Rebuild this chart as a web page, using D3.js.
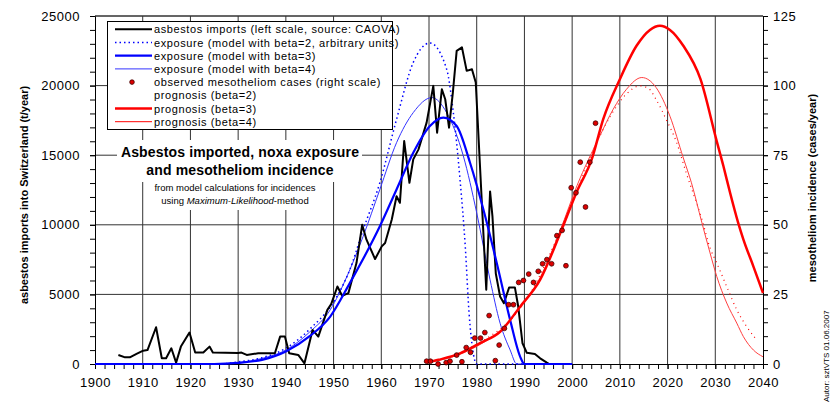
<!DOCTYPE html>
<html lang="en">
<head>
<meta charset="utf-8">
<title>Asbestos imported, noxa exposure and mesotheliom incidence</title>
<script src="https://cdn.jsdelivr.net/npm/d3@7"></script>
<style>
  body { margin: 0; background: #fff; }
  svg { display: block; font-family: "Liberation Sans", Arial, sans-serif; }
  .tick text { font-size: 13px; letter-spacing: 0.5px; fill: #000; }
  .grid line { stroke: #333; stroke-width: 1; }
</style>
</head>
<body>
<script>
// asbestos imports, t/year (left scale)
var importYears = [1904.9, 1906.3, 1907.3, 1908.7, 1910.1, 1911.0, 1912.8, 1914.0, 1914.9, 1916.0,
  1917.0, 1918.0, 1919.8, 1921.0, 1922.7, 1924.0, 1924.7, 1930.0, 1930.7, 1931.8,
  1934.2, 1937.7, 1938.8, 1939.8, 1940.7, 1942.6, 1943.9, 1945.6, 1946.8, 1948.7,
  1949.5, 1950.8, 1951.8, 1953.1, 1954.8, 1956.0, 1956.9, 1958.7, 1960.1, 1960.8,
  1962.2, 1963.2, 1963.9, 1964.8, 1965.9, 1966.7, 1967.8, 1969.5, 1970.9, 1971.7,
  1972.7, 1973.4, 1974.2, 1975.0, 1975.8, 1976.9, 1977.9, 1979.0, 1979.8, 1982.0,
  1982.8, 1983.3, 1984.0, 1984.9, 1985.7, 1986.8, 1988.0, 1988.7, 1989.6, 1990.5,
  1992.2, 1993.3, 1994.7, 1995.2];
var importValues = [650, 480, 480, 720, 960, 1000, 2640, 410, 410, 1130,
  100, 1250, 2260, 820, 820, 1250, 820, 790, 820, 650,
  770, 770, 1970, 1970, 770, 650, 50, 2450, 1970, 3890,
  4300, 5570, 4900, 5090, 7250, 10010, 8930, 7540, 8450, 8690,
  10380, 12050, 11580, 16020, 13020, 14700, 15420, 17340, 19980, 16620,
  19740, 19020, 16980, 19500, 22500, 22750, 21060, 21180, 20220, 5330,
  12400, 10600, 6500, 4850, 4370, 5500, 5500, 4130, 1490, 800,
  720, 410, 100, 0];

// exposure models (arbitrary units, drawn on the left scale)
var expo2Years = [1900, 1926, 1930, 1935, 1940, 1945, 1950.7, 1953.4, 1956.2, 1959.7, 1963.2, 1966.7, 1970.2, 1973.7, 1975.1, 1976.5, 1977.6, 1978.4, 1979.3, 1980, 2000];
var expo2Values = [0, 0, 150, 450, 1130, 2500, 4850, 6770, 9650, 13020, 17580, 21660, 23060, 21180, 18060, 13260, 8450, 3650, 720, 0, 0];
var expo3Years = [1900, 1925, 1930, 1935, 1940, 1945, 1949.3, 1953.4, 1959.7, 1963.2, 1966.7, 1970.2, 1973, 1975.8, 1978.6, 1981.4, 1984.2, 1987, 1989.1, 1990, 2000];
var expo3Values = [0, 0, 80, 300, 900, 2000, 3410, 5810, 9890, 12540, 15180, 17100, 17700, 17100, 14460, 11100, 7260, 3170, 530, 0, 0];
var expo4Years = [1900, 1925, 1930, 1935, 1940, 1945, 1949.3, 1952.8, 1956.2, 1959.7, 1963.2, 1966.7, 1970.6, 1973.7, 1977.2, 1980, 1982.8, 1984.9, 1987, 1988.4, 2000];
var expo4Values = [0, 0, 100, 400, 1000, 2300, 3890, 6290, 9170, 12540, 15900, 18060, 19140, 18060, 14940, 10860, 6050, 2930, 1010, 0, 0];

// observed mesotheliom cases per year (right scale)
var caseYears = [1969.5, 1970.3, 1971.9, 1973.6, 1974.4, 1975.8, 1976.9, 1977.8, 1978.7, 1979.6,
  1980.8, 1981.7, 1982.6, 1983.9, 1984.7, 1985.8, 1986.7, 1987.7, 1988.8, 1989.8,
  1990.9, 1991.9, 1992.9, 1993.8, 1994.7, 1995.7, 1996.8, 1997.9, 1998.7, 1999.8,
  2000.8, 2001.7, 2002.8, 2003.7, 2004.9];
var caseValues = [1, 1, 0, 0.5, 1, 3.2, 0.8, 5.9, 4.2, 9.3,
  9.3, 11.3, 17.4, 1.2, 6.8, 12.8, 21.3, 21.3, 29.3, 30,
  32.3, 29.3, 33.3, 36, 37.5, 36, 46.1, 48, 35.3, 63.3,
  61.5, 72.5, 56.4, 72.5, 86.5];

// prognosis curves (right scale)
var prog2Years = [1970, 1980, 1990, 2000, 2005, 2008, 2011.4, 2014.2, 2016, 2017.6, 2019.7, 2021.8, 2023.9, 2027.2, 2028.9, 2030.3, 2032.4, 2034.5, 2036.6, 2038.4];
var prog2Values = [0.5, 7, 22, 58, 79, 89, 97, 99.9, 99, 95, 87.9, 80, 68.7, 51.9, 41.7, 36.3, 27.8, 19.5, 13.4, 9.2];
var prog3Years = [1969.5, 1972, 1976.5, 1980.7, 1984.9, 1989.1, 1993.3, 1997.5, 2001, 2004.1, 2006.5, 2010, 2013.5, 2016.3, 2018.4, 2020.5, 2023.3, 2026.9, 2030.2, 2031.7, 2033.1, 2034.8, 2035.9, 2038, 2040];
var prog3Values = [0.5, 1.5, 3.8, 7.5, 11.6, 20.6, 30.3, 47, 62, 73.5, 87.9, 102.3, 114.3, 120, 121.5, 120, 114.3, 102.3, 80.7, 71.1, 61.5, 50.7, 44.7, 35, 25.5];
var prog4Years = [1969.5, 1976.5, 1980.7, 1985, 1989, 1993.3, 1997.5, 2001, 2005.8, 2008.6, 2011.4, 2014.6, 2017.6, 2020.5, 2023.3, 2025, 2027.2, 2028.9, 2030.3, 2032.4, 2034.5, 2035.9, 2038, 2040];
var prog4Values = [0.5, 3.5, 7, 12, 20, 31, 48, 64, 81.9, 91.5, 98.7, 102.9, 99.3, 89, 74, 65.1, 50.7, 39.9, 31.5, 21.9, 14.7, 9.8, 5, 2.6];

var legendLabels = [
  "asbestos imports (left scale, source: CAOVA)",
  "exposure (model with beta=2, arbitrary units)",
  "exposure (model with beta=3)",
  "exposure (model with beta=4)",
  "observed mesotheliom cases (right scale)",
  "prognosis (beta=2)",
  "prognosis (beta=3)",
  "prognosis (beta=4)"
];

var w = 831, h = 404;
var pLeft = 95, pRight = 763, pTop = 16, pBottom = 364;

var svg = d3.select("body").append("svg").attr("width", w).attr("height", h);
svg.append("rect").attr("width", w).attr("height", h).attr("fill", "#fff");

var x = d3.scaleLinear().domain([1900, 2040]).range([pLeft, pRight]);
var y = d3.scaleLinear().domain([0, 25000]).range([pBottom, pTop]);
var y2 = d3.scaleLinear().domain([0, 125]).range([pBottom, pTop]);

// grid
var grid = svg.append("g").attr("class", "grid");
grid.selectAll(".gv").data(d3.range(1910, 2040, 10)).enter().append("line")
  .attr("x1", d => x(d)).attr("x2", d => x(d)).attr("y1", pTop).attr("y2", pBottom);
grid.selectAll(".gh").data(d3.range(5000, 25001, 5000)).enter().append("line")
  .attr("x1", pLeft).attr("x2", pRight).attr("y1", d => y(d)).attr("y2", d => y(d));

// axes (major + minor ticks)
function styleAxis(g) {
  g.select(".domain").attr("stroke", "#000");
  g.selectAll(".tick line").attr("stroke", "#000");
}
svg.append("g").attr("transform", "translate(" + pLeft + ",0)")
  .call(d3.axisLeft(y).tickValues(d3.range(0, 25001, 1000)).tickSize(5).tickFormat(""))
  .call(styleAxis);
svg.append("g").attr("transform", "translate(" + pLeft + ",0)")
  .call(d3.axisLeft(y).tickValues(d3.range(0, 25001, 5000)).tickSize(5).tickPadding(10).tickFormat(d3.format("d")))
  .call(styleAxis);
svg.append("g").attr("transform", "translate(" + pRight + ",0)")
  .call(d3.axisRight(y2).tickValues(d3.range(0, 126, 5)).tickSize(5).tickFormat(""))
  .call(styleAxis);
svg.append("g").attr("transform", "translate(" + pRight + ",0)")
  .call(d3.axisRight(y2).tickValues(d3.range(0, 126, 25)).tickSize(5).tickPadding(5))
  .call(styleAxis);
svg.append("g").attr("transform", "translate(0," + pBottom + ")")
  .call(d3.axisBottom(x).tickValues(d3.range(1900, 2041, 2)).tickSize(5).tickFormat(""))
  .call(styleAxis);
svg.append("g").attr("transform", "translate(0," + pBottom + ")")
  .call(d3.axisBottom(x).tickValues(d3.range(1900, 2041, 10)).tickSize(5).tickPadding(9).tickFormat(d3.format("d")))
  .call(styleAxis);
svg.append("line").attr("x1", pLeft).attr("x2", pRight).attr("y1", pTop).attr("y2", pTop).attr("stroke", "#333");

// axis titles
svg.append("text").attr("transform", "translate(28,195) rotate(-90)")
  .attr("text-anchor", "middle").attr("font-size", "11px").attr("font-weight", "bold")
  .text("asbestos imports into Switzerland (t/year)");
svg.append("text").attr("transform", "translate(816,188) rotate(-90)")
  .attr("text-anchor", "middle").attr("font-size", "11px").attr("font-weight", "bold")
  .text("mesotheliom incidence (cases/year)");
svg.append("text").attr("transform", "translate(829,402) rotate(-90)")
  .attr("font-size", "8px").text("Autor: sztVTS 01.06.2007");

// title block with white background
svg.append("rect").attr("x", 117).attr("y", 140).attr("width", 245).attr("height", 42).attr("fill", "#fff");
svg.append("rect").attr("x", 150).attr("y", 181).attr("width", 172).attr("height", 29).attr("fill", "#fff");
svg.append("text").attr("x", 240).attr("y", 157).attr("text-anchor", "middle")
  .attr("font-size", "14px").attr("font-weight", "bold").attr("letter-spacing", "0.15px")
  .text("Asbestos imported, noxa exposure");
svg.append("text").attr("x", 240).attr("y", 175).attr("text-anchor", "middle")
  .attr("font-size", "14px").attr("font-weight", "bold").attr("letter-spacing", "0.15px")
  .text("and mesotheliom incidence");
svg.append("text").attr("x", 235).attr("y", 191).attr("text-anchor", "middle")
  .attr("font-size", "9.5px").text("from model calculations for incidences");
var sub = svg.append("text").attr("x", 235).attr("y", 204).attr("text-anchor", "middle").attr("font-size", "9.5px");
sub.append("tspan").text("using ");
sub.append("tspan").attr("font-style", "italic").text("Maximum-Likelihood");
sub.append("tspan").text("-method");

// lines
function pts(xs, vs) { return xs.map((d, i) => [d, vs[i]]); }
var lineL = d3.line().x(d => x(d[0])).y(d => y(d[1]));
var smoothL = d3.line().x(d => x(d[0])).y(d => y(d[1])).curve(d3.curveMonotoneX);
var smoothR = d3.line().x(d => x(d[0])).y(d => y2(d[1])).curve(d3.curveMonotoneX);

var plot = svg.append("g").attr("fill", "none");
plot.append("path").attr("d", smoothL(pts(expo4Years, expo4Values))).attr("stroke", "#3333ff").attr("stroke-width", 1);
plot.append("path").attr("d", smoothL(pts(expo2Years, expo2Values))).attr("stroke", "#0000ff").attr("stroke-width", 1.5).attr("stroke-dasharray", "1.5,3");
plot.append("path").attr("d", lineL(pts(importYears, importValues))).attr("stroke", "#000").attr("stroke-width", 2).attr("stroke-linejoin", "round");
plot.append("path").attr("d", smoothL(pts(expo3Years, expo3Values))).attr("stroke", "#0000ff").attr("stroke-width", 2.2);

plot.append("path").attr("d", smoothR(pts(prog2Years, prog2Values))).attr("stroke", "#ff0000").attr("stroke-width", 1.2).attr("stroke-dasharray", "1,4");
plot.append("path").attr("d", smoothR(pts(prog4Years, prog4Values))).attr("stroke", "#ff4040").attr("stroke-width", 1);
plot.append("path").attr("d", smoothR(pts(prog3Years, prog3Values))).attr("stroke", "#ff0000").attr("stroke-width", 2.5);

svg.append("g").selectAll("circle").data(pts(caseYears, caseValues)).enter().append("circle")
  .attr("cx", d => x(d[0])).attr("cy", d => y2(d[1])).attr("r", 2.4)
  .attr("fill", "#dd0000").attr("stroke", "#400000").attr("stroke-width", 0.8);

// legend
var leg = svg.append("g");
leg.append("rect").attr("x", 107.5).attr("y", 21.5).attr("width", 285).attr("height", 108)
  .attr("fill", "#fff").attr("stroke", "#000");
var legStyles = [
  { stroke: "#000", width: 2 },
  { stroke: "#0000ff", width: 1.5, dash: "1.5,3" },
  { stroke: "#0000ff", width: 2.2 },
  { stroke: "#3333ff", width: 1 },
  { dot: true },
  { none: true },
  { stroke: "#ff0000", width: 2.5 },
  { stroke: "#ff0000", width: 1 }
];
legendLabels.forEach(function (label, i) {
  var cy = 29.3 + i * 13.2;
  var s = legStyles[i];
  if (s.dot) {
    leg.append("circle").attr("cx", 132).attr("cy", cy).attr("r", 2.3)
      .attr("fill", "#dd0000").attr("stroke", "#400000").attr("stroke-width", 0.8);
  } else if (!s.none) {
    leg.append("line").attr("x1", 115).attr("x2", 152).attr("y1", cy).attr("y2", cy)
      .attr("stroke", s.stroke).attr("stroke-width", s.width).attr("stroke-dasharray", s.dash || null);
  }
  leg.append("text").attr("x", 154).attr("y", cy + 4).attr("font-size", "11px")
    .attr("letter-spacing", "0.6px").text(label);
});
</script>
</body>
</html>
